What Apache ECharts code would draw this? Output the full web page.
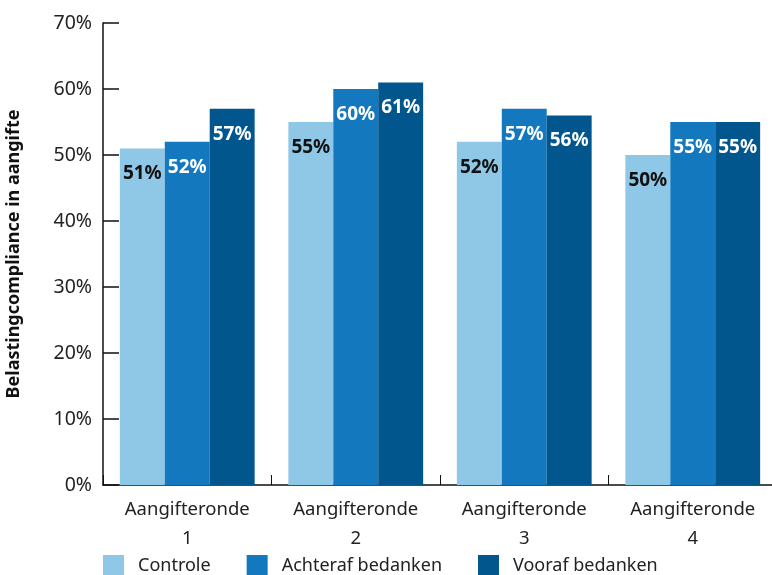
<!DOCTYPE html>
<html>
<head>
<meta charset="utf-8">
<script src="https://cdn.jsdelivr.net/npm/echarts@6/dist/echarts.min.js"></script>
<style>
  html, body { margin: 0; padding: 0; background: #ffffff; }
  #chart { width: 772px; height: 575px; }
</style>
</head>
<body>
<div id="chart"></div>
<script>
// Rounds of the tax filing experiment
const categories = ['Aangifteronde\n1', 'Aangifteronde\n2', 'Aangifteronde\n3', 'Aangifteronde\n4'];
const seriesNames = ['Controle', 'Achteraf bedanken', 'Vooraf bedanken'];
// Compliance per round (%)
const controle = [51, 55, 52, 50];
const achteraf = [52, 60, 57, 55];
const vooraf = [57, 61, 56, 55];
const yTicks = [0, 10, 20, 30, 40, 50, 60, 70];

const colors = ['#8fc8e6', '#1378be', '#02568e'];
const labelColors = ['#111111', '#ffffff', '#ffffff'];
const FONT = '"Noto Sans", "Open Sans", sans-serif';

const chart = echarts.init(document.getElementById('chart'), null, { renderer: 'canvas' });

const seriesData = [controle, achteraf, vooraf];

chart.setOption({
  animation: false,
  textStyle: { fontFamily: FONT },
  legend: {
    data: seriesNames,
    left: 103,
    top: 555,
    padding: 0,
    itemWidth: 21,
    itemHeight: 22,
    itemGap: 36,
    icon: 'rect',
    textStyle: { fontFamily: FONT, fontSize: 18, color: '#222', padding: [3, 0, 0, 9] }
  },
  // the plot area runs slightly past the right edge of the canvas
  grid: { left: 103, top: 23, width: 674, bottom: 90, containLabel: false, outerBoundsMode: 'none' },
  xAxis: {
    type: 'category',
    data: categories,
    axisLine: { show: true, lineStyle: { color: '#111', width: 1.5 } },
    axisTick: { show: true, inside: true, length: 10, lineStyle: { color: '#111', width: 1 } },
    axisLabel: { fontFamily: FONT, fontSize: 18.5, color: '#222', lineHeight: 29, margin: 10 }
  },
  yAxis: {
    type: 'value',
    min: yTicks[0],
    max: yTicks[yTicks.length - 1],
    interval: 10,
    name: 'Belastingcompliance in aangifte',
    nameLocation: 'middle',
    nameGap: 80,
    nameTextStyle: { fontFamily: FONT, fontSize: 18, fontWeight: 'bold', color: '#111' },
    axisLine: { show: true, lineStyle: { color: '#111', width: 1.5 } },
    axisTick: { show: true, inside: true, length: 16, lineStyle: { color: '#111', width: 1.5 } },
    splitLine: { show: false },
    axisLabel: { fontFamily: FONT, fontSize: 19.5, color: '#222', margin: 11, formatter: '{value}%' }
  },
  series: seriesNames.map((name, i) => ({
    name: name,
    type: 'bar',
    data: seriesData[i],
    barGap: '0%',
    barCategoryGap: '20%',
    itemStyle: { color: colors[i] },
    label: {
      show: true,
      position: 'insideTop',
      distance: 16,
      formatter: '{c}%',
      fontFamily: FONT,
      fontSize: 19,
      fontWeight: 'bold',
      color: labelColors[i]
    }
  }))
});
</script>
</body>
</html>
